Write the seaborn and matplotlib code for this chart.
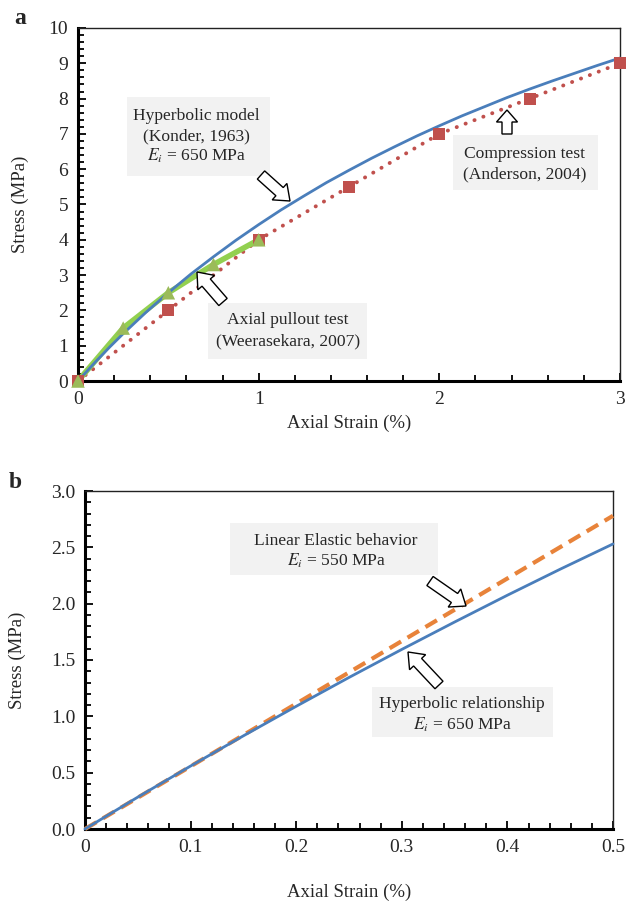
import matplotlib
matplotlib.use("Agg")
import matplotlib.pyplot as plt
import seaborn as sns
import pandas as pd
from matplotlib.ticker import MultipleLocator, FixedLocator, FixedFormatter
from matplotlib.patches import FancyArrow, Rectangle
from matplotlib.transforms import IdentityTransform

# ---------------- data ----------------
# panel a
hyp_a_strain = [0, 0.05, 0.1, 0.175, 0.25, 0.375, 0.5, 0.625, 0.75, 0.875, 1.0, 1.125,
                1.25, 1.375, 1.5, 1.625, 1.75, 1.875, 2.0, 2.125, 2.25, 2.375, 2.5,
                2.625, 2.75, 2.875, 3.0]
hyp_a_stress = [0, 0.28, 0.56, 0.96, 1.34, 1.94, 2.50, 3.03, 3.52, 3.99, 4.43, 4.85,
                5.24, 5.62, 5.97, 6.31, 6.63, 6.94, 7.23, 7.51, 7.77, 8.03, 8.27,
                8.50, 8.72, 8.94, 9.15]
comp_strain = [0, 0.5, 1.0, 1.5, 2.0, 2.5, 3.0]
comp_stress = [0, 2.0, 4.0, 5.5, 7.0, 8.0, 9.0]
pull_strain = [0, 0.25, 0.5, 0.75, 1.0]
pull_stress = [0, 1.5, 2.5, 3.3, 4.0]
# panel b
hyp_b_strain = [0, 0.05, 0.1, 0.15, 0.2, 0.25, 0.3, 0.35, 0.4, 0.45, 0.5]
hyp_b_stress = [0, 0.283, 0.559, 0.827, 1.089, 1.345, 1.594, 1.837, 2.075, 2.306, 2.53]
lin_b_strain = [0, 0.5]
lin_b_stress = [0, 2.78]

a_xticks = [0, 1, 2, 3]
a_yticks = list(range(0, 11))
b_xticks = [0, 0.1, 0.2, 0.3, 0.4, 0.5]
b_xlabels = ["0", "0.1", "0.2", "0.3", "0.4", "0.5"]
b_yticks = [0, 0.5, 1.0, 1.5, 2.0, 2.5, 3.0]
b_ylabels = ["0.0", "0.5", "1.0", "1.5", "2.0", "2.5", "3.0"]

BLUE = "#4A7EBB"
RED = "#C0504D"
GREEN_L = "#92D050"
GREEN_M = "#9BBB59"
ORANGE = "#E8833A"
BOXC = "#F2F2F2"

sns.set_style("ticks")
plt.rcParams["font.family"] = ["Liberation Serif", "DejaVu Serif"]
plt.rcParams["mathtext.fontset"] = "stix"

W, H = 626, 906
fig = plt.figure(figsize=(W / 100, H / 100), dpi=100)
ax1 = fig.add_axes([78 / W, 1 - 381 / H, (620 - 78) / W, (381 - 28) / H])
ax2 = fig.add_axes([85 / W, 1 - 829 / H, (613 - 85) / W, (829 - 491) / H])

# ---------------- panel a ----------------
df_comp = pd.DataFrame({"strain": comp_strain, "stress": comp_stress})
df_pull = pd.DataFrame({"strain": pull_strain, "stress": pull_stress})
df_hypa = pd.DataFrame({"strain": hyp_a_strain, "stress": hyp_a_stress})

sns.lineplot(data=df_comp, x="strain", y="stress", ax=ax1, color=RED, lw=2.8,
             linestyle=(0, (0.05, 2.4)), dash_capstyle="round", solid_capstyle="round",
             estimator=None, sort=False, zorder=3, clip_on=False)
sns.lineplot(data=df_pull, x="strain", y="stress", ax=ax1, color=GREEN_L, lw=4,
             estimator=None, sort=False, zorder=4, clip_on=False)
sns.lineplot(data=df_hypa, x="strain", y="stress", ax=ax1, color=BLUE, lw=2,
             estimator=None, sort=False, zorder=5, clip_on=False)
sns.scatterplot(data=df_comp, x="strain", y="stress", ax=ax1, marker="s", s=75,
                color=RED, edgecolor="none", linewidth=0, zorder=6, clip_on=False)
sns.scatterplot(data=df_pull, x="strain", y="stress", ax=ax1, marker="^", s=95,
                color=GREEN_M, edgecolor="none", linewidth=0, zorder=7, clip_on=False)

ax1.set_xlim(0, 3)
ax1.set_ylim(0, 10)
ax1.xaxis.set_major_locator(FixedLocator(a_xticks))
ax1.yaxis.set_major_locator(FixedLocator(a_yticks))
ax1.xaxis.set_minor_locator(MultipleLocator(0.2))
ax1.yaxis.set_minor_locator(MultipleLocator(0.2))

# ---------------- panel b ----------------
df_hypb = pd.DataFrame({"strain": hyp_b_strain, "stress": hyp_b_stress})
df_lin = pd.DataFrame({"strain": lin_b_strain, "stress": lin_b_stress})
sns.lineplot(data=df_lin, x="strain", y="stress", ax=ax2, color=ORANGE, lw=3,
             linestyle=(0, (3.2, 1.8)), estimator=None, sort=False, zorder=3, clip_on=False)
sns.lineplot(data=df_hypb, x="strain", y="stress", ax=ax2, color=BLUE, lw=2,
             estimator=None, sort=False, zorder=4, clip_on=False)
ax2.set_xlim(0, 0.5)
ax2.set_ylim(0, 3)
ax2.xaxis.set_major_locator(FixedLocator(b_xticks))
ax2.xaxis.set_major_formatter(FixedFormatter(b_xlabels))
ax2.yaxis.set_major_locator(FixedLocator(b_yticks))
ax2.yaxis.set_major_formatter(FixedFormatter(b_ylabels))
ax2.xaxis.set_minor_locator(MultipleLocator(0.02))
ax2.yaxis.set_minor_locator(MultipleLocator(0.1))

for ax, lp in ((ax1, 5), (ax2, 20)):
    for s in ("left", "bottom"):
        ax.spines[s].set_linewidth(2.2)
        ax.spines[s].set_color("black")
    for s in ("top", "right"):
        ax.spines[s].set_visible(True)
        ax.spines[s].set_linewidth(1.0)
        ax.spines[s].set_color("#222222")
    ax.tick_params(which="both", direction="in", top=False, right=False,
                   color="black", width=1.3, labelsize=14, pad=7)
    ax.tick_params(which="major", length=5.5)
    ax.tick_params(which="minor", length=4)
    ax.set_xlabel("Axial Strain (%)", fontsize=13.5, labelpad=lp)
    ax.set_ylabel("Stress (MPa)", fontsize=13.5)
ax1.yaxis.set_label_coords(-0.090, 0.5)
ax2.yaxis.set_label_coords(-0.112, 0.5)

# ---------------- annotations (pixel coordinates) ----------------
T = IdentityTransform()


def box(x0, y0, x1, y1):
    fig.add_artist(Rectangle((x0, H - y1), x1 - x0, y1 - y0, transform=T,
                             facecolor=BOXC, edgecolor="none", zorder=10))


def txt(x, y, s, size=12.6):
    fig.text(x, H - y, s, transform=T, ha="center", va="center", fontsize=size, zorder=11)


def arrow(xt, yt, xh, yh, shaft=11, hw=22, hl=14):
    fig.add_artist(FancyArrow(xt, H - yt, xh - xt, -(yh - yt), width=shaft,
                              head_width=hw, head_length=hl, length_includes_head=True,
                              transform=T, facecolor="white", edgecolor="black",
                              lw=1.0, zorder=12))


# panel a
box(127, 97, 270, 176)
txt(196, 116, "Hyperbolic model")
txt(196, 136, "(Konder, 1963)")
txt(196, 156, "$E_i$ = 650 MPa")
box(453, 135, 598, 190)
txt(525, 154, "Compression test")
txt(525, 174, "(Anderson, 2004)")
box(208, 303, 367, 359)
txt(288, 320, "Axial pullout test")
txt(288, 341, "(Weerasekara, 2007)")
arrow(261, 175, 290, 201)
arrow(507, 134, 507, 110, shaft=10, hw=21, hl=12)
arrow(223, 302, 197, 272)

# panel b
box(230, 523, 438, 575)
txt(336, 541, "Linear Elastic behavior")
txt(336, 561, "$E_i$ = 550 MPa")
box(372, 687, 553, 737)
txt(462, 704, "Hyperbolic relationship")
txt(462, 725, "$E_i$ = 650 MPa")
arrow(430, 581, 466, 606)
arrow(439, 685, 408, 652)

fig.text(20, H - 18, "a", transform=T, ha="center", va="center", fontsize=17, fontweight="bold")
fig.text(15, H - 482, "b", transform=T, ha="center", va="center", fontsize=17, fontweight="bold")

fig.savefig("out.png", dpi=100)
